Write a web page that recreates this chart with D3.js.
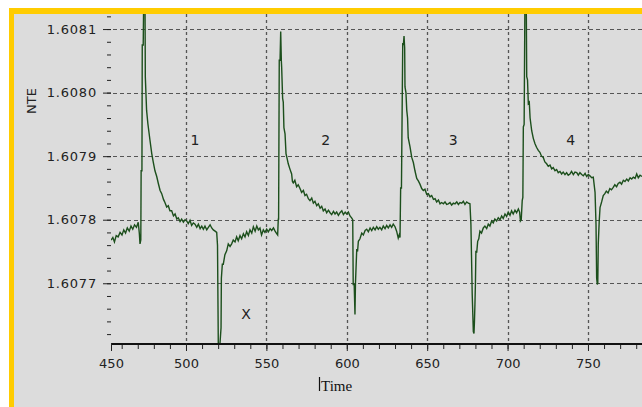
<!DOCTYPE html>
<html>
<head>
<meta charset="utf-8">
<title>NTE</title>
<script src="https://cdn.jsdelivr.net/npm/d3@7/dist/d3.min.js"></script>
<style>
  body { margin: 0; background: #fff; }
  text { font-family: "DejaVu Sans", sans-serif; fill: #222; }
  text.serif { font-family: "Liberation Serif", serif; fill: #111; }
</style>
</head>
<body>
<script>
// time (x) and NTE (y)
var times = [453.4,454.5,455.5,456.6,457.8,459.0,460.2,461.3,462.4,463.5,464.7,465.8,466.9,468.0,469.2,470.3,471.0,471.4,
  471.9,472.1,472.6,472.8,473.4,473.7,474.5,474.7,475.5,476.3,477.6,478.7,479.7,480.7,481.8,482.8,483.9,484.9,486.0,486.9,
  488.0,489.0,490.0,491.1,492.2,493.2,494.3,495.2,496.3,497.3,498.4,499.4,500.4,501.4,502.5,503.5,504.6,505.6,506.7,507.7,
  508.8,509.8,510.8,511.8,512.9,513.9,515.0,516.0,517.0,518.1,519.1,519.6,520.1,521.0,521.8,522.0,522.6,523.2,524.2,525.3,
  526.3,527.4,528.4,529.4,530.5,531.5,532.5,533.6,534.6,535.7,536.7,537.7,538.8,539.8,540.9,541.9,543.0,544.0,545.0,546.0,
  547.0,548.1,549.1,550.2,551.2,552.3,553.3,554.4,555.4,556.4,557.0,557.4,557.6,558.0,558.5,558.9,559.3,559.5,560.1,560.5,
  560.9,561.6,562.2,562.9,563.6,564.6,565.7,566.2,566.7,567.7,568.8,569.8,570.9,571.9,573.0,574.0,575.0,576.1,577.1,578.2,
  579.2,580.2,581.3,582.3,583.4,584.4,585.4,586.5,587.5,588.6,589.6,590.6,591.7,592.7,593.7,594.8,595.8,596.9,597.9,599.0,
  599.9,601.0,602.0,603.0,603.7,604.0,604.6,605.1,605.4,606.2,606.7,607.2,608.2,609.3,610.3,611.4,612.4,613.4,614.5,615.5,
  616.5,617.6,618.6,619.6,620.6,621.7,622.7,623.8,624.8,625.8,626.9,627.9,628.9,630.0,631.0,632.0,632.6,633.1,633.5,634.0,
  634.8,635.2,635.6,636.0,636.2,636.8,637.3,637.8,638.2,639.3,640.4,641.4,642.4,643.5,644.5,645.5,646.6,647.6,648.6,649.7,
  650.7,651.8,652.8,653.9,654.9,655.9,657.0,658.0,659.0,660.1,661.1,662.1,663.1,664.2,665.2,666.3,667.3,668.4,669.4,670.4,
  671.5,672.5,673.5,674.6,675.6,676.6,677.2,678.0,678.7,679.1,679.4,679.7,680.0,680.3,680.8,681.4,682.1,682.8,683.8,684.9,
  685.9,687.0,688.0,689.0,690.1,691.1,692.1,693.2,694.2,695.3,696.3,697.3,698.4,699.4,700.4,701.5,702.5,703.5,704.6,705.6,
  706.7,707.5,708.0,708.5,709.1,709.5,709.8,710.3,710.8,711.6,711.9,712.4,712.9,713.5,714.0,715.0,716.0,717.0,718.0,719.1,
  720.1,721.1,722.2,723.2,724.3,725.3,726.4,727.4,728.4,729.5,730.5,731.5,732.6,733.6,734.6,735.7,736.7,737.7,738.8,739.8,
  740.9,741.9,743.0,744.0,745.0,746.1,747.1,748.2,749.2,750.2,751.2,752.3,753.3,754.4,755.0,755.4,755.8,756.1,756.4,757.0,
  757.5,758.5,759.5,760.5,761.4,762.5,763.6,764.6,765.7,766.7,767.8,768.8,769.9,770.9,772.0,773.0,774.1,775.1,776.2,777.2,
  778.2,779.3,780.3,781.3,782.4,783.6];
var nte = [1.607768,1.607772,1.607765,1.607775,1.607773,1.607780,1.607776,1.607784,1.607779,1.607787,1.607782,1.607790,1.607785,1.607792,1.607788,1.607796,1.607778,1.607762,
  1.607768,1.607877,1.607877,1.608075,1.608075,1.608150,1.608150,1.608025,1.607972,1.607951,1.607925,1.607904,1.607890,1.607877,1.607868,1.607857,1.607846,1.607841,1.607832,1.607827,
  1.607820,1.607822,1.607814,1.607814,1.607806,1.607809,1.607801,1.607803,1.607797,1.607801,1.607796,1.607800,1.607798,1.607794,1.607799,1.607791,1.607795,1.607793,1.607788,1.607793,
  1.607786,1.607790,1.607785,1.607790,1.607784,1.607788,1.607792,1.607787,1.607784,1.607782,1.607780,1.607760,1.607600,1.607600,1.607630,1.607708,1.607730,1.607730,1.607745,1.607751,
  1.607762,1.607758,1.607762,1.607768,1.607765,1.607773,1.607767,1.607775,1.607770,1.607778,1.607773,1.607781,1.607775,1.607784,1.607779,1.607789,1.607782,1.607790,1.607784,1.607787,
  1.607776,1.607784,1.607780,1.607785,1.607781,1.607786,1.607783,1.607787,1.607782,1.607778,1.607776,1.607801,1.607801,1.608051,1.608051,1.608096,1.608050,1.608040,1.607991,1.607985,
  1.607945,1.607935,1.607904,1.607896,1.607888,1.607880,1.607872,1.607860,1.607858,1.607862,1.607852,1.607855,1.607849,1.607843,1.607846,1.607838,1.607840,1.607833,1.607830,1.607834,
  1.607826,1.607829,1.607822,1.607825,1.607818,1.607821,1.607814,1.607817,1.607811,1.607815,1.607811,1.607808,1.607813,1.607809,1.607812,1.607807,1.607811,1.607814,1.607808,1.607812,
  1.607809,1.607812,1.607806,1.607803,1.607800,1.607698,1.607698,1.607651,1.607700,1.607754,1.607750,1.607766,1.607770,1.607779,1.607776,1.607783,1.607785,1.607781,1.607787,1.607783,
  1.607788,1.607784,1.607789,1.607785,1.607788,1.607784,1.607790,1.607786,1.607791,1.607787,1.607792,1.607788,1.607793,1.607789,1.607782,1.607771,1.607776,1.607772,1.607850,1.607850,
  1.608078,1.608075,1.608089,1.608070,1.608009,1.608000,1.607972,1.607960,1.607929,1.607915,1.607898,1.607890,1.607877,1.607865,1.607861,1.607856,1.607849,1.607846,1.607848,1.607840,
  1.607841,1.607836,1.607838,1.607832,1.607833,1.607828,1.607831,1.607825,1.607827,1.607825,1.607828,1.607824,1.607825,1.607827,1.607823,1.607826,1.607825,1.607828,1.607824,1.607827,
  1.607826,1.607829,1.607824,1.607828,1.607826,1.607825,1.607793,1.607683,1.607624,1.607621,1.607640,1.607667,1.607700,1.607751,1.607748,1.607766,1.607770,1.607782,1.607779,1.607787,
  1.607790,1.607786,1.607793,1.607790,1.607798,1.607795,1.607801,1.607798,1.607803,1.607800,1.607806,1.607802,1.607809,1.607805,1.607812,1.607807,1.607814,1.607809,1.607815,1.607811,
  1.607817,1.607812,1.607798,1.607800,1.607830,1.607835,1.607946,1.607950,1.608150,1.608150,1.608025,1.608020,1.607983,1.607985,1.607960,1.607940,1.607928,1.607920,1.607914,1.607909,
  1.607906,1.607900,1.607898,1.607891,1.607888,1.607884,1.607886,1.607880,1.607882,1.607877,1.607879,1.607874,1.607876,1.607872,1.607875,1.607871,1.607874,1.607870,1.607872,1.607876,
  1.607871,1.607875,1.607874,1.607870,1.607874,1.607871,1.607869,1.607873,1.607868,1.607871,1.607869,1.607866,1.607867,1.607843,1.607793,1.607708,1.607698,1.607700,1.607762,1.607798,
  1.607819,1.607828,1.607838,1.607841,1.607845,1.607842,1.607849,1.607847,1.607851,1.607855,1.607852,1.607857,1.607859,1.607856,1.607862,1.607860,1.607864,1.607861,1.607866,1.607864,
  1.607867,1.607865,1.607872,1.607866,1.607870,1.607868];

var xDomain = [453.36, 783.6];
var yDomain = [1.607606, 1.6081237];
var xTicks = [453.36, 500, 550, 600, 650, 700, 750];
var xTickLabels = ["450", "500", "550", "600", "650", "700", "750"];
var yTicks = [1.6077, 1.6078, 1.6079, 1.6080, 1.6081];
var yTickLabels = ["1.6077", "1.6078", "1.6079", "1.6080", "1.6081"];
var notes = [
  {label: "1", t: 505.6, v: 1.607926},
  {label: "2", t: 586.9, v: 1.607926},
  {label: "3", t: 666.2, v: 1.607926},
  {label: "4", t: 739.3, v: 1.607926},
  {label: "X", t: 537.3, v: 1.607652}
];

var W = 642, H = 407;
var plot = {left: 111, right: 642, top: 14, bottom: 343};

var svg = d3.select("body").append("svg")
  .attr("width", W).attr("height", H);

// yellow frame + grey panel
svg.append("rect").attr("x", 9).attr("y", 8).attr("width", W - 9).attr("height", H - 8).attr("fill", "#ffcc00");
svg.append("rect").attr("x", 14).attr("y", 14).attr("width", W - 14).attr("height", H - 14).attr("fill", "#dcdcdc");

var x = d3.scaleLinear().domain(xDomain).range([plot.left, plot.right]);
var y = d3.scaleLinear().domain(yDomain).range([plot.bottom, plot.top]);

// grid
svg.append("g").selectAll("line").data(xTicks.slice(1)).enter().append("line")
  .attr("x1", function(d){ return Math.round(x(d)) + 0.5; })
  .attr("x2", function(d){ return Math.round(x(d)) + 0.5; })
  .attr("y1", plot.top).attr("y2", plot.bottom)
  .attr("stroke", "#555").attr("stroke-width", 1.3).attr("stroke-dasharray", "3,3");
svg.append("g").selectAll("line").data(yTicks).enter().append("line")
  .attr("x1", plot.left + 2).attr("x2", plot.right)
  .attr("y1", function(d){ return Math.round(y(d)) + 0.5; })
  .attr("y2", function(d){ return Math.round(y(d)) + 0.5; })
  .attr("stroke", "#555").attr("stroke-width", 1.2).attr("stroke-dasharray", "4,3");

// trace
svg.append("clipPath").attr("id", "clip").append("rect")
  .attr("x", plot.left).attr("y", plot.top)
  .attr("width", plot.right - plot.left).attr("height", plot.bottom - plot.top);

var line = d3.line()
  .x(function(d){ return x(d[0]); })
  .y(function(d){ return y(d[1]); });

svg.append("path")
  .datum(d3.zip(times, nte))
  .attr("clip-path", "url(#clip)")
  .attr("fill", "none")
  .attr("stroke", "#1c4f1c")
  .attr("stroke-width", 1.4)
  .attr("d", line);

// x axis: major + minor ticks
svg.append("g")
  .attr("transform", "translate(0," + plot.bottom + ")")
  .call(d3.axisBottom(x).tickValues(d3.range(460, 790, 10)).tickSize(6).tickFormat(""))
  .call(function(g){ g.select(".domain").remove(); })
  .selectAll("line").attr("stroke", "#222");

var xAxis = svg.append("g")
  .attr("transform", "translate(0," + plot.bottom + ")")
  .call(d3.axisBottom(x).tickValues(xTicks).tickSize(8).tickPadding(8)
    .tickFormat(function(d, i){ return xTickLabels[i]; }));
xAxis.select(".domain").attr("stroke", "#111").attr("stroke-width", 2).attr("d", "M" + plot.left + ",1H" + plot.right);
xAxis.selectAll("line").attr("stroke", "#222");
xAxis.selectAll("text").attr("font-size", 13).attr("fill", "#222");

// y axis: ticks only, no spine
svg.append("g")
  .attr("transform", "translate(" + plot.left + ",0)")
  .call(d3.axisLeft(y).tickValues(d3.range(1.60762, 1.60813, 0.00002)).tickSize(4).tickFormat(""))
  .call(function(g){ g.select(".domain").remove(); })
  .selectAll("line").attr("stroke", "#222");

var yAxis = svg.append("g")
  .attr("transform", "translate(" + plot.left + ",0)")
  .call(d3.axisLeft(y).tickValues(yTicks).tickSize(8).tickPadding(6)
    .tickFormat(function(d, i){ return yTickLabels[i]; }));
yAxis.select(".domain").remove();
yAxis.selectAll("line").attr("stroke", "#222");
yAxis.selectAll("text").attr("font-size", 13).attr("fill", "#222")
  .style("letter-spacing", "0.8px");

// annotations
svg.append("g").selectAll("text").data(notes).enter().append("text")
  .attr("x", function(d){ return x(d.t); })
  .attr("y", function(d){ return y(d.v); })
  .attr("dy", "0.36em")
  .attr("text-anchor", "middle")
  .attr("font-size", 14)
  .text(function(d){ return d.label; });

// axis titles
svg.append("text")
  .attr("transform", "translate(36,101) rotate(-90)")
  .attr("text-anchor", "middle")
  .attr("font-size", 13)
  .text("NTE");

svg.append("line")
  .attr("x1", 319.5).attr("x2", 319.5).attr("y1", 377).attr("y2", 391)
  .attr("stroke", "#111").attr("stroke-width", 1.2);
svg.append("text")
  .attr("class", "serif")
  .attr("x", 321).attr("y", 391)
  .attr("font-size", 15)
  .text("Time");
</script>
</body>
</html>
